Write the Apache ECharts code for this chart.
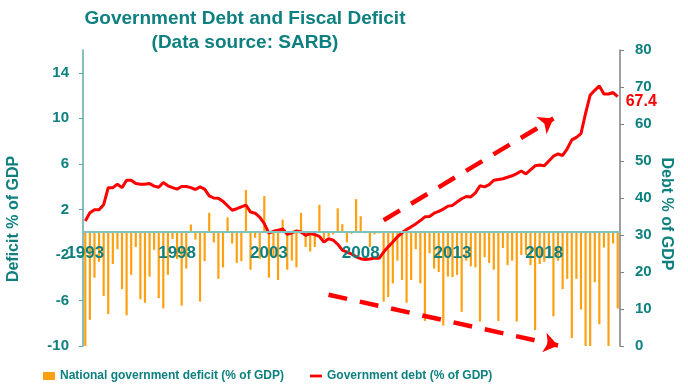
<!DOCTYPE html>
<html><head><meta charset="utf-8">
<script src="https://cdn.jsdelivr.net/npm/echarts@6.0.0/dist/echarts.min.js"></script>
<style>html,body{margin:0;padding:0;background:#fff}#c{width:688px;height:387px}</style>
</head><body><div id="c"></div>
<script>
// Quarterly categories 1993 Q1 .. 2022 Q1
const startYear = 1993;
const nQuarters = 117;
const categories = [];
for (let k = 0; k < nQuarters; k++) {
  categories.push((startYear + Math.floor(k / 4)) + ' Q' + (k % 4 + 1));
}

// National government deficit (% of GDP), left axis
const deficit = [
  -10.0, -7.7, -4.0, -2.6, -5.6, -7.2, -2.8, -1.5, -5.0, -7.3,
  -3.75, -1.3, -5.9, -6.2, -3.9, -1.55, -5.8, -6.7, -3.75, -0.6,
  -2.35, -6.45, -3.2, 0.67, -0.65, -6.1, -2.55, 1.7, -0.9, -4.1,
  -3.1, 1.3, -1.0, -2.7, -2.55, 3.7, -3.3, -0.5, -2.35, 3.17,
  -4.0, -2.3, -4.2, 1.1, -3.3, -2.5, -3.1, 1.7, -1.3, -1.7,
  -1.3, 2.4, -0.6, -0.4, -0.2, 2.1, 0.7, -0.9, -0.15, 2.9,
  1.4, -0.1, -1.3, -0.2, -0.1, -6.1, -5.7, -4.5, -2.5, -4.2,
  -6.2, -4.2, -1.5, -4.5, -7.8, -1.85, -3.2, -3.5, -8.2, -3.9,
  -3.95, -3.75, -7.0, -2.5, -3.0, -3.1, -7.85, -2.2, -2.7, -3.3,
  -7.8, -1.4, -2.9, -2.5, -7.85, -2.0, -2.0, -2.9, -8.6, -2.8,
  -2.6, -2.3, -7.4, -2.5, -5.0, -4.1, -9.3, -4.1, -6.8, -10.0,
  -10.0, -4.4, -8.1, -1.35, -10.0, -1.0, -6.7
];

// Government debt (% of GDP), right axis
const debt = [
  33.8, 36.0, 36.8, 36.8, 38.2, 42.8, 42.8, 43.7, 42.8, 44.8,
  44.8, 43.9, 43.7, 43.7, 43.9, 43.2, 42.9, 44.2, 43.3, 42.8,
  42.4, 43.1, 43.1, 42.8, 42.3, 43.0, 42.4, 40.6, 40.0, 39.9,
  39.1, 37.9, 36.7, 37.1, 37.6, 38.1, 36.2, 35.9, 34.8, 33.1,
  30.5, 31.0, 31.3, 31.6, 30.2, 30.6, 31.1, 30.8, 29.9, 30.4,
  30.1, 29.6, 28.1, 29.0, 28.6, 27.5, 25.9, 25.4, 24.9, 24.1,
  23.6, 23.4, 23.5, 23.8, 23.7, 25.4, 26.8, 28.1, 29.5, 30.6,
  31.5, 32.2, 33.0, 33.9, 34.9, 35.0, 35.9, 36.4, 37.0, 37.8,
  38.0, 38.9, 39.8, 40.4, 40.3, 41.4, 43.3, 43.0, 43.6, 44.8,
  45.0, 45.2, 45.6, 46.0, 46.6, 47.3, 46.5, 47.6, 48.7, 48.9,
  48.7, 50.0, 51.3, 51.9, 51.5, 53.3, 55.7, 56.4, 57.4, 62.9,
  67.8, 69.1, 70.3, 68.1, 68.1, 68.5, 67.4
];

// Trend arrows in data space: [category index, value]
const upArrow = [[64.6, 34.0], [102.3, 61.5]];      // right axis
const downArrow = [[52.6, -5.5], [103.4, -9.95]];   // left axis

const leftTicks = { min: -10, max: 16, interval: 4 };
const rightTicks = { min: 0, max: 80, interval: 10 };

const TEAL = '#0E8080';
const FONT = 'Liberation Sans, Arial, sans-serif';

const GRID = { left: 83, right: 68, top: 50, bottom: 41 };
const gridH = 387 - GRID.top - GRID.bottom;
// move the category axis (line, ticks, labels) up to the zero of the left axis
const zeroOffset = -gridH * (0 - leftTicks.min) / (leftTicks.max - leftTicks.min);

const chart = echarts.init(document.getElementById('c'), null, { renderer: 'canvas' });
chart.setOption({
  animation: false,
  backgroundColor: '#fff',
  textStyle: { fontFamily: FONT },
  title: {
    text: 'Government Debt and Fiscal Deficit\n(Data source: SARB)',
    left: 245, top: 7, textAlign: 'center', padding: 0,
    textStyle: { color: TEAL, fontSize: 19, fontWeight: 'bold', lineHeight: 24, fontFamily: FONT }
  },
  legend: {
    top: 370, left: 43, padding: 0,
    itemWidth: 12, itemHeight: 8, itemGap: 26,
    textStyle: { color: TEAL, fontSize: 12, fontWeight: 'bold', fontFamily: FONT },
    data: [
      { name: 'National government deficit (% of GDP)', icon: 'rect' },
      { name: 'Government debt (% of GDP)', icon: 'path://M0,0h13v3H0z' }
    ]
  },
  grid: { left: GRID.left, right: GRID.right, top: GRID.top, bottom: GRID.bottom, containLabel: false },
  xAxis: {
    type: 'category', data: categories, boundaryGap: true, z: 5,
    position: 'bottom', offset: zeroOffset,
    axisLine: { onZero: false, lineStyle: { color: '#7FC3BE', width: 2 } },
    axisTick: { interval: 3, length: 4, lineStyle: { color: TEAL } },
    axisLabel: {
      interval: 19, formatter: v => v.slice(0, 4),
      color: TEAL, fontWeight: 'bold', fontSize: 17, margin: 13, fontFamily: FONT
    },
    splitLine: { show: false }
  },
  yAxis: [
    {
      type: 'value', position: 'left',
      min: leftTicks.min, max: leftTicks.max, interval: leftTicks.interval,
      axisLine: { show: true, onZero: false, lineStyle: { color: '#5FA9A5', width: 1.5 } },
      axisTick: { show: true, length: 4, lineStyle: { color: '#5FA9A5' } },
      splitLine: { show: false },
      axisLabel: { showMaxLabel: false, color: TEAL, fontWeight: 'bold', fontSize: 15, margin: 14, fontFamily: FONT }
    },
    {
      type: 'value', position: 'right',
      min: rightTicks.min, max: rightTicks.max, interval: rightTicks.interval,
      axisLine: { show: true, onZero: false, lineStyle: { color: '#808080', width: 1.5 } },
      axisTick: { show: true, length: 4, lineStyle: { color: '#808080' } },
      splitLine: { show: false },
      axisLabel: { color: TEAL, fontWeight: 'bold', fontSize: 15, margin: 15, fontFamily: FONT }
    }
  ],
  series: [
    {
      name: 'National government deficit (% of GDP)', type: 'bar', yAxisIndex: 0,
      data: deficit, barWidth: 2.2, itemStyle: { color: '#FFA010' },
      markLine: {
        silent: true, symbol: ['none', 'arrow'], symbolSize: [15, 14],
        label: { show: false },
        lineStyle: { color: '#FF0000', width: 4.5, type: [19, 13] },
        data: [[{ coord: downArrow[0] }, { coord: downArrow[1] }]]
      }
    },
    {
      name: 'Government debt (% of GDP)', type: 'line', yAxisIndex: 1,
      data: debt, symbol: 'none', clip: false,
      lineStyle: { color: '#FF0000', width: 3 }, itemStyle: { color: '#FF0000' },
      endLabel: {
        show: true, formatter: p => String(p.value), distance: 8, offset: [0, 5],
        color: '#FF0000', fontWeight: 'bold', fontSize: 16, fontFamily: FONT
      },
      markLine: {
        silent: true, symbol: ['none', 'arrow'], symbolSize: [15, 14],
        label: { show: false },
        lineStyle: { color: '#FF0000', width: 4.5, type: [19, 13] },
        data: [[{ coord: upArrow[0] }, { coord: upArrow[1] }]]
      }
    }
  ],
  graphic: [
    {
      type: 'text', x: 14, y: 219, rotation: Math.PI / 2,
      style: { text: 'Deficit % of GDP', fill: TEAL, font: 'bold 16px ' + FONT, align: 'center', verticalAlign: 'middle' }
    },
    {
      type: 'text', x: 666, y: 214, rotation: -Math.PI / 2,
      style: { text: 'Debt % of GDP', fill: TEAL, font: 'bold 16px ' + FONT, align: 'center', verticalAlign: 'middle' }
    }
  ]
});
</script></body></html>
